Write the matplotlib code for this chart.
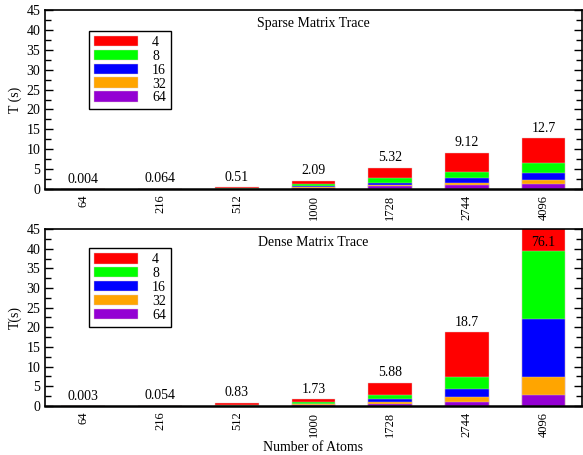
#!/usr/bin/env python3
import matplotlib
matplotlib.use("Agg")
import matplotlib.pyplot as plt
from matplotlib.ticker import MultipleLocator
import numpy as np

atoms = ["64", "216", "512", "1000", "1728", "2744", "4096"]
procs = ["4", "8", "16", "32", "64"]
colors = ["#ff0000", "#00ff00", "#0000ff", "#ffa500", "#9400d3"]

# timings (s) per process count, one list per count
sparse_4 = [0.004, 0.064, 0.51, 2.09, 5.32, 9.12, 12.7]
sparse_8 = [0.003, 0.04, 0.15, 1.35, 2.85, 4.4, 6.5]
sparse_16 = [0.002, 0.025, 0.09, 0.8, 1.6, 2.8, 3.9]
sparse_32 = [0.0015, 0.015, 0.05, 0.5, 1.0, 1.6, 2.3]
sparse_64 = [0.001, 0.01, 0.03, 0.3, 0.65, 0.9, 1.35]

dense_4 = [0.003, 0.054, 0.83, 1.73, 5.88, 18.7, 76.1]
dense_8 = [0.002, 0.03, 0.2, 1.0, 2.8, 7.3, 39.4]
dense_16 = [0.0015, 0.02, 0.12, 0.6, 1.8, 4.3, 22.1]
dense_32 = [0.001, 0.012, 0.07, 0.4, 1.1, 2.3, 7.4]
dense_64 = [0.001, 0.008, 0.04, 0.25, 0.6, 1.0, 2.8]

sparse = [sparse_4, sparse_8, sparse_16, sparse_32, sparse_64]
dense = [dense_4, dense_8, dense_16, dense_32, dense_64]

plt.rcParams["font.family"] = ["Liberation Serif", "DejaVu Serif"]
plt.rcParams["font.size"] = 10

fig = plt.figure(figsize=(5.83, 4.55), dpi=100)
ax_top = fig.add_axes([0.0772, 0.5846, 0.921, 0.3934])
ax_bot = fig.add_axes([0.0772, 0.1077, 0.921, 0.3890])

x = np.arange(len(atoms))
YMAX = 45


def draw_panel(ax, series, title, ylabel, legend_top):
    for vals, label, color in zip(series, procs, colors):
        ax.bar(x, vals, width=0.57, color=color, edgecolor="#e0c8c8",
               linewidth=0.3, label=label, zorder=2)
    for xi, v in zip(x, series[0]):
        if v > YMAX:
            # value runs past the axis, so write it inside the bar
            ax.text(xi, YMAX - 3.5, f"{v:g}", ha="center", va="center",
                    fontsize=10, zorder=3)
        else:
            ax.annotate(f"{v:g}", (xi, v), xytext=(0, 2.5),
                        textcoords="offset points", ha="center",
                        va="bottom", fontsize=10)
    ax.set_xlim(-0.5, len(atoms) - 0.5)
    ax.set_ylim(0, YMAX)
    ax.set_xticks(x)
    ax.set_xticklabels(atoms, rotation=90, fontsize=9)
    ax.tick_params(axis="x", length=0, pad=4)
    ax.yaxis.set_major_locator(MultipleLocator(5))
    ax.yaxis.set_minor_locator(MultipleLocator(2.5))
    ax.tick_params(axis="y", which="both", direction="in", left=True,
                   right=True, labelsize=10)
    ax.tick_params(axis="y", which="major", length=6, width=1)
    ax.tick_params(axis="y", which="minor", length=4, width=1)
    for spine in ax.spines.values():
        spine.set_linewidth(1.2)
    ax.spines["bottom"].set_linewidth(1.8)
    ax.set_ylabel(ylabel, fontsize=10, labelpad=3)
    ax.text(0.5, 0.922, title, transform=ax.transAxes, ha="center",
            va="center", fontsize=10)
    leg = ax.legend(loc="upper left", bbox_to_anchor=(0.082, legend_top),
                    fontsize=10, handlelength=3.2, handleheight=0.78,
                    labelspacing=0.06, handletextpad=1.0, borderpad=0.35,
                    fancybox=False, framealpha=1, borderaxespad=0)
    leg.get_frame().set_edgecolor("black")
    leg.get_frame().set_linewidth(1.0)


draw_panel(ax_top, sparse, "Sparse Matrix Trace", "T (s)", 0.883)
draw_panel(ax_bot, dense, "Dense Matrix Trace", "T(s)", 0.891)
ax_bot.set_xlabel("Number of Atoms", fontsize=10, labelpad=3)

fig.savefig("out.png", dpi=100)
